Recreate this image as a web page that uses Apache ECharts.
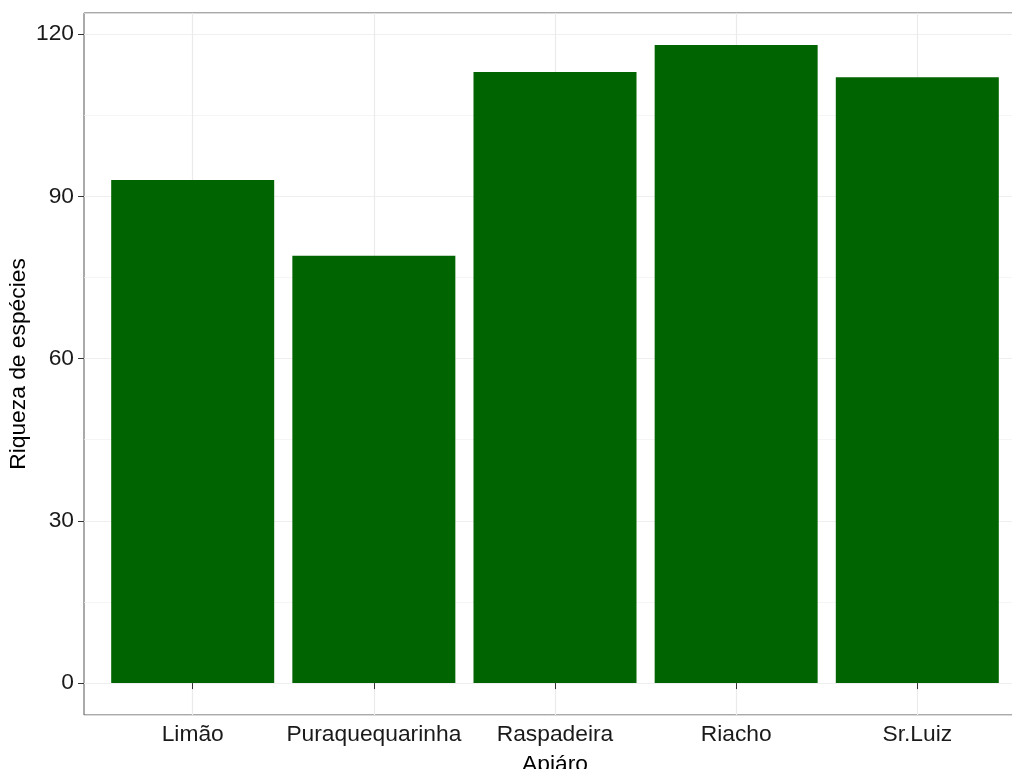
<!DOCTYPE html>
<html>
<head>
<meta charset="utf-8">
<script src="https://cdn.jsdelivr.net/npm/echarts@6/dist/echarts.min.js"></script>
<style>html,body{margin:0;padding:0;background:#fff}#c{width:1012px;height:769px}</style>
</head>
<body>
<div id="c"></div>
<script>
const categories = ["Limão", "Puraquequarinha", "Raspadeira", "Riacho", "Sr.Luiz"];
const riqueza = [93, 79, 113, 118, 112];
const yTicks = [0, 30, 60, 90, 120];
const xTitle = "Apiáro";
const yTitle = "Riqueza de espécies";

// ggplot-like expansion: discrete 0.6 units, continuous 5%
const xMin = 0.4, xMax = categories.length + 0.6;
const yMin = -5.9, yMax = 123.9;
const xPos = categories.map((c, i) => i + 1);
const barData = riqueza.map((v, i) => [xPos[i], v]);

const chart = echarts.init(document.getElementById('c'));
const font = 'Liberation Sans, Arial, sans-serif';
const fs = 22.8;
chart.setOption({
  animation: false,
  grid: { left: 84, width: 942, top: 13, bottom: 54, show: true, borderColor: '#555', borderWidth: 1,
    backgroundColor: 'transparent', containLabel: false, outerBoundsMode: 'none' },
  xAxis: {
    type: 'value',
    min: xMin, max: xMax,
    minInterval: 1, maxInterval: 1,
    name: xTitle,
    nameLocation: 'middle',
    nameGap: 38,
    nameMoveOverlap: false,
    nameTextStyle: { fontFamily: font, fontSize: fs, color: '#000' },
    axisLine: { show: false },
    axisTick: { show: true, customValues: xPos, length: 6, lineStyle: { color: '#333' } },
    axisLabel: { customValues: xPos, fontFamily: font, fontSize: fs, color: '#1a1a1a', margin: 8,
      formatter: v => categories[Math.round(v) - 1] || '' },
    splitLine: { show: true, lineStyle: { color: '#ebebeb', width: 1.2 } }
  },
  yAxis: [{
    type: 'value',
    min: yMin, max: yMax,
    minInterval: 30, maxInterval: 30,
    name: yTitle,
    nameLocation: 'middle',
    nameGap: 54,
    nameMoveOverlap: false,
    nameTextStyle: { fontFamily: font, fontSize: fs, color: '#000' },
    axisLine: { show: false },
    axisTick: { show: true, customValues: yTicks, length: 6, lineStyle: { color: '#333' } },
    axisLabel: { customValues: yTicks, fontFamily: font, fontSize: fs, color: '#1a1a1a', margin: 10 },
    splitLine: { show: true, lineStyle: { color: '#ebebeb', width: 1.2 } }
  }, {
    type: 'value',
    position: 'left',
    min: yMin, max: yMax,
    minInterval: 15, maxInterval: 15,
    axisLine: { show: false },
    axisTick: { show: false },
    axisLabel: { show: false },
    splitLine: { show: true, lineStyle: { color: '#f0f0f0', width: 0.7 } }
  }],
  series: [{
    type: 'bar',
    yAxisIndex: 0,
    data: barData,
    barWidth: 163,
    itemStyle: { color: '#006400' }
  }]
});
</script>
</body>
</html>
